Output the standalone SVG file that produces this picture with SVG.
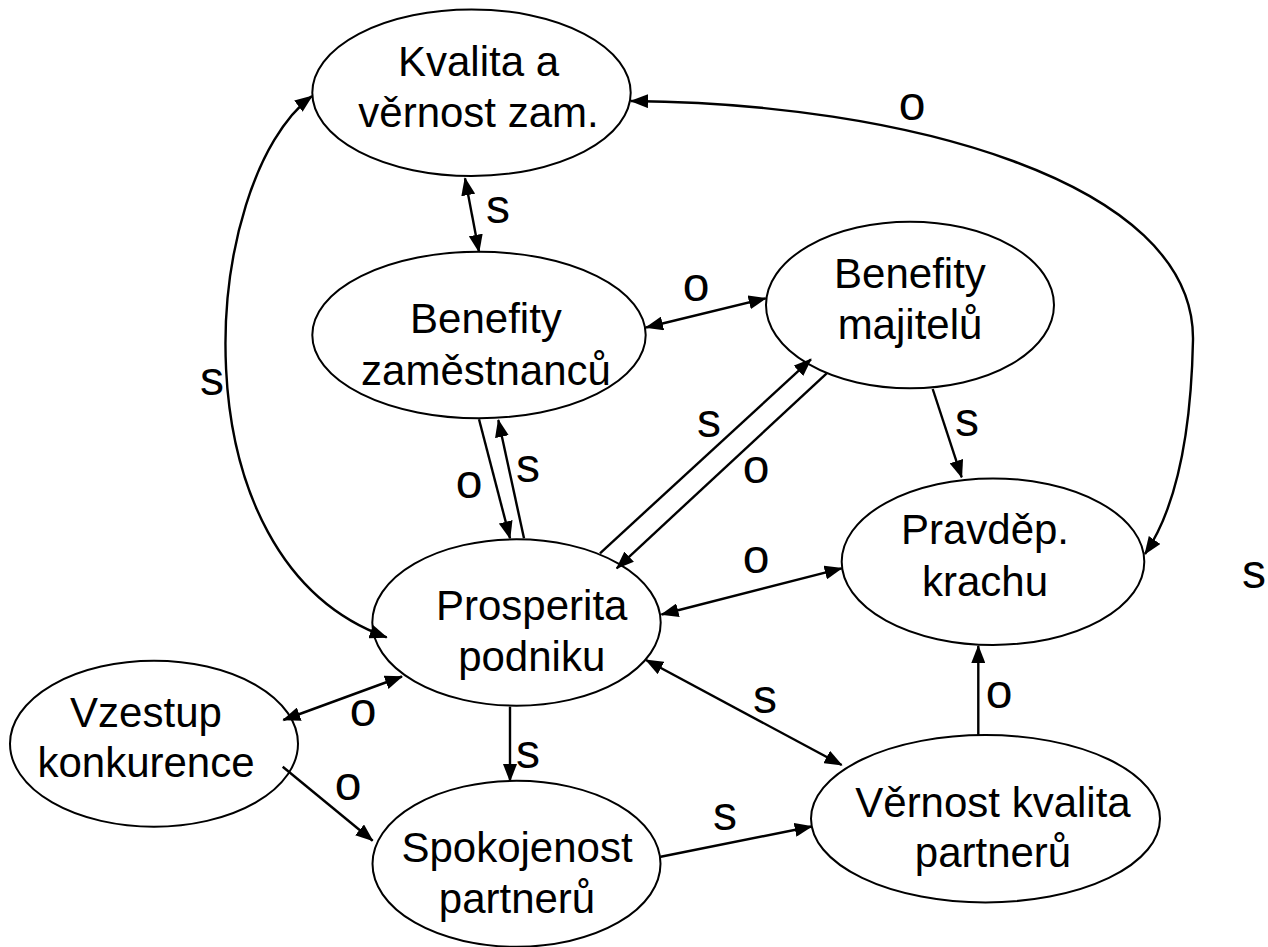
<svg xmlns="http://www.w3.org/2000/svg" width="1268" height="947" viewBox="0 0 1268 947">
<defs>
<marker id="ah" viewBox="0 0 18 14" refX="17" refY="7" markerWidth="18" markerHeight="14" markerUnits="userSpaceOnUse" orient="auto-start-reverse">
<path d="M0,0 L18,7 L0,14 z" fill="#000"/>
</marker>
<style>
.node ellipse{fill:#fff;stroke:#000;stroke-width:2}
.node text{font-family:"Liberation Sans",Arial,sans-serif;font-size:42px;fill:#000;text-anchor:middle}
.lbl{font-family:"Liberation Sans",Arial,sans-serif;font-size:48px;fill:#000;text-anchor:middle}
.c{fill:none;stroke:#000;stroke-width:2.4}
.e{marker-end:url(#ah)}
.b{marker-start:url(#ah);marker-end:url(#ah)}
</style>
</defs>
<rect width="1268" height="947" fill="#fff"/>
<g id="n-kvalita" class="node">
<ellipse cx="471.5" cy="92.7" rx="159.2" ry="83.3"/>
<text x="478.5" y="76">Kvalita a</text>
<text x="478.5" y="127">věrnost zam.</text>
</g>
<g id="n-benefity-zam" class="node">
<ellipse cx="479" cy="335" rx="166.7" ry="83.3"/>
<text x="486" y="333">Benefity</text>
<text x="486" y="385">zaměstnanců</text>
</g>
<g id="n-benefity-maj" class="node">
<ellipse cx="910" cy="305" rx="144" ry="83.3"/>
<text x="910" y="288">Benefity</text>
<text x="910" y="339">majitelů</text>
</g>
<g id="n-pravdep" class="node">
<ellipse cx="993" cy="561.7" rx="151.3" ry="83.3"/>
<text x="985" y="544">Pravděp.</text>
<text x="985" y="596">krachu</text>
</g>
<g id="n-prosperita" class="node">
<ellipse cx="516.5" cy="622.5" rx="144.2" ry="83.2"/>
<text x="531.7" y="620">Prosperita</text>
<text x="531.7" y="671">podniku</text>
</g>
<g id="n-vzestup" class="node">
<ellipse cx="154" cy="743.7" rx="144" ry="83"/>
<text x="146" y="727">Vzestup</text>
<text x="146" y="777">konkurence</text>
</g>
<g id="n-spokojenost" class="node">
<ellipse cx="516.5" cy="863.8" rx="144" ry="83"/>
<text x="517" y="862">Spokojenost</text>
<text x="517" y="913">partnerů</text>
</g>
<g id="n-vernost" class="node">
<ellipse cx="985.5" cy="818.7" rx="174.5" ry="83.7"/>
<text x="993" y="817">Věrnost kvalita</text>
<text x="993" y="867">partnerů</text>
</g>
<g id="connectors">
<path class="c b" d="M465,178.3 L479,251.7"/>
<path class="c b" d="M646,327.5 L765.7,298.3"/>
<path class="c e" d="M479,419.3 L510,538.3"/>
<path class="c e" d="M524,538.3 L498.3,420"/>
<path class="c e" d="M600,553.3 L811,359.3"/>
<path class="c e" d="M826.7,373.3 L616.7,568.3"/>
<path class="c e" d="M932.7,389 L961.7,477.3"/>
<path class="c b" d="M661.5,614.5 L841.7,568.3"/>
<path class="c b" d="M646,660 L841.7,765"/>
<path class="c e" d="M510,706.7 L510,781"/>
<path class="c b" d="M283.3,720 L402,676.5"/>
<path class="c e" d="M282.7,766.7 L372.7,840.7"/>
<path class="c e" d="M660.7,856.7 L811.7,826.5"/>
<path class="c e" d="M978.3,735 L978.3,646"/>
<path class="c b" d="M386.7,637.3 C170,560 200,180 312,96"/>
<path class="c b" d="M631,101 C900,103 1195,180 1193,340 C1191,440 1175,510 1145,554"/>
</g>
<g id="labels">
<text class="lbl" x="498" y="223">s</text>
<text class="lbl" x="696" y="301">o</text>
<text class="lbl" x="212" y="395">s</text>
<text class="lbl" x="469" y="498">o</text>
<text class="lbl" x="528" y="482">s</text>
<text class="lbl" x="709" y="437">s</text>
<text class="lbl" x="756" y="483">o</text>
<text class="lbl" x="967" y="436">s</text>
<text class="lbl" x="912" y="120">o</text>
<text class="lbl" x="756" y="573">o</text>
<text class="lbl" x="1254" y="588">s</text>
<text class="lbl" x="765" y="713">s</text>
<text class="lbl" x="363" y="726">o</text>
<text class="lbl" x="528" y="768">s</text>
<text class="lbl" x="348" y="800">o</text>
<text class="lbl" x="725" y="830">s</text>
<text class="lbl" x="999" y="708">o</text>
</g>
</svg>
